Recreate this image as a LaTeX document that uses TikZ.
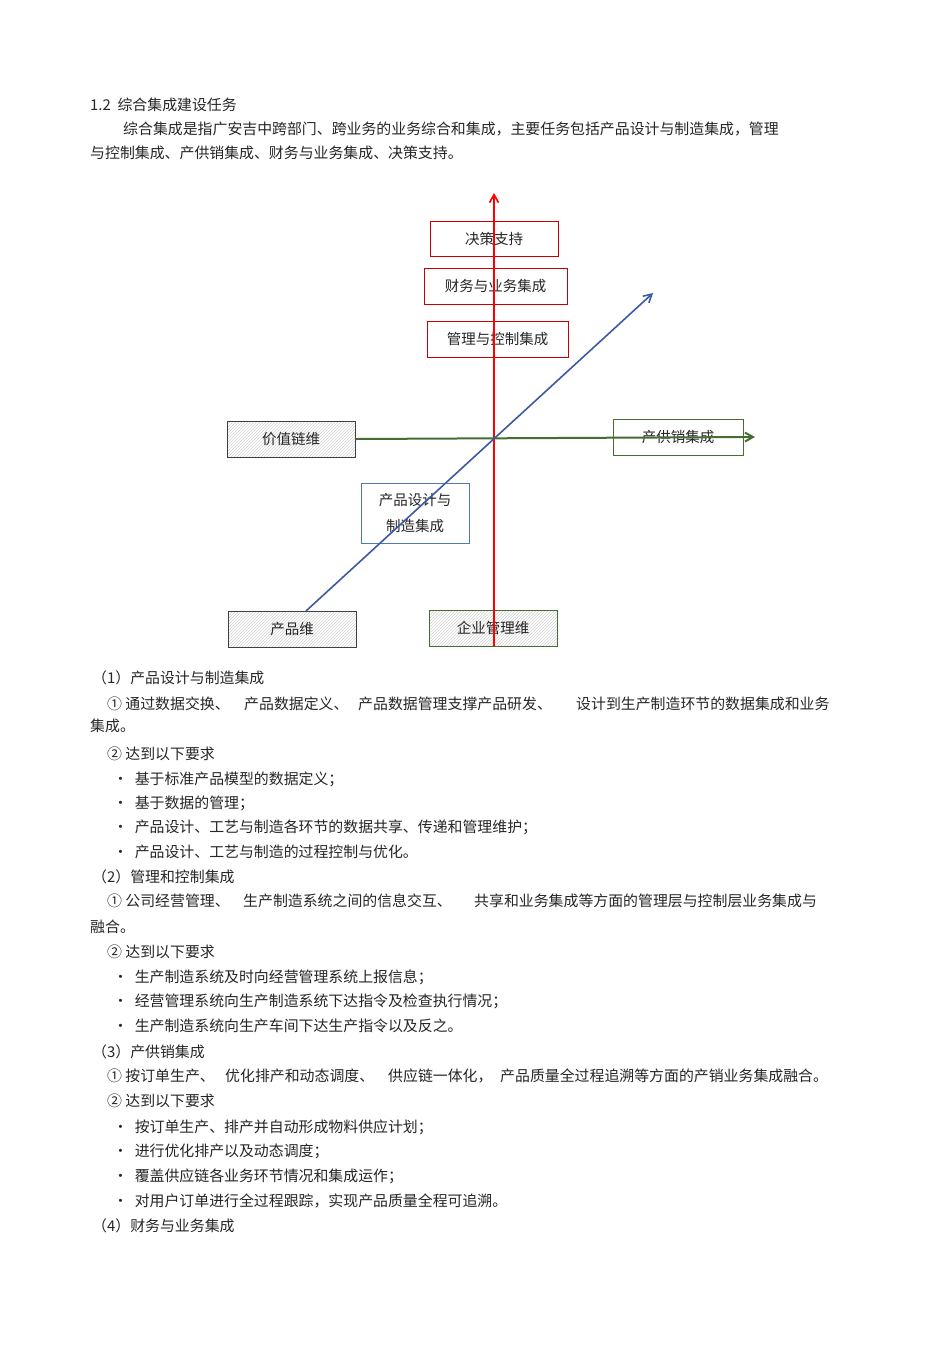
\documentclass[tikz,border=0pt]{standalone}
\usepackage{fontspec}
\setmainfont{Noto Sans CJK SC}
\usetikzlibrary{patterns,arrows.meta}
\definecolor{bluebox}{RGB}{80,120,180}
\definecolor{blueline}{RGB}{60,90,160}
\definecolor{greenline}{RGB}{70,110,50}
\tikzset{
 t/.style={anchor=west,inner sep=0pt,font=\fontsize{14.9}{17}\selectfont,text=black!85},
 bf/.style={font=\fontsize{14.5}{17}\selectfont,text=black!85},
 rbox/.style={bf,draw=red!80!black,line width=0.9pt,inner sep=0pt},
 hbox/.style={bf,draw=black!75,line width=1pt,pattern=north east lines,pattern color=black!18,inner sep=0pt},
}
\begin{document}
\begin{tikzpicture}[x=1pt,y=-1pt]
\useasboundingbox[fill=white] (0,0) rectangle (950,1345);
% boxes
\node[rbox,minimum width=128,minimum height=35] (jc) at (494,238.5) {决策支持};
\node[rbox,minimum width=143,minimum height=36] (cw) at (495.5,286) {财务与业务集成};
\node[rbox,minimum width=141,minimum height=36] (gl) at (497.5,339) {管理与控制集成};
\node[hbox,minimum width=128,minimum height=36] (jz) at (291,439) {价值链维};
\node[bf,draw=greenline,line width=0.9pt,minimum width=130,minimum height=36,inner sep=0pt] (cg) at (678,437) {产供销集成};
\node[bf,draw=bluebox,line width=0.9pt,minimum width=108,minimum height=60,inner sep=0pt,align=center,font=\fontsize{14.5}{26}\selectfont] (cp) at (415,513) {产品设计与\\制造集成};
\node[hbox,minimum width=128,minimum height=36] (cpw) at (292,629) {产品维};
\node[hbox,draw=greenline,minimum width=128,minimum height=36] (qy) at (493,628) {企业管理维};
% axes
\coordinate (rt) at (494,193);
\coordinate (gt) at (755,437);
\coordinate (bt) at (653,293);
\coordinate (bb) at (306,611);
\draw[red,line width=1.6pt,-{Straight Barb[length=8pt,width=9pt]}] (494,646) -- (rt);
\draw[greenline,line width=2pt,-{Straight Barb[length=8pt,width=9pt]}] (jz.east) -- (gt);
\draw[blueline,line width=1.6pt,-{Straight Barb[length=8pt,width=9pt]}] (bb) -- (bt);
% text
\node[t] (l1) at (90,105) {1.2\ \ 综合集成建设任务};
\node[t] (l2) at (123,129) {综合集成是指广安吉中跨部门、跨业务的业务综合和集成，主要任务包括产品设计与制造集成，管理};
\node[t] (l3) at (90,153) {与控制集成、产供销集成、财务与业务集成、决策支持。};
\node[t] (s1) at (92,678) {（1）产品设计与制造集成};
\node[t] (a1) at (107,704) {① 通过数据交换、};
\node[t] (a2) at (244,704) {产品数据定义、};
\node[t] (a3) at (358,704) {产品数据管理支撑产品研发、};
\node[t] (a4) at (576,704) {设计到生产制造环节的数据集成和业务};
\node[t] (a5) at (90,726) {集成。};
\node[t] (a6) at (107,754) {② 达到以下要求};
\node[t] (b1) at (113,779) {·\ \ 基于标准产品模型的数据定义；};
\node[t] (b2) at (113,803) {·\ \ 基于数据的管理；};
\node[t] (b3) at (113,827) {·\ \ 产品设计、工艺与制造各环节的数据共享、传递和管理维护；};
\node[t] (b4) at (113,852) {·\ \ 产品设计、工艺与制造的过程控制与优化。};
\node[t] (s2) at (92,877) {（2）管理和控制集成};
\node[t] (c1) at (107,901) {① 公司经营管理、};
\node[t] (c2) at (243,901) {生产制造系统之间的信息交互、};
\node[t] (c3) at (474,901) {共享和业务集成等方面的管理层与控制层业务集成与};
\node[t] (c4) at (90,927) {融合。};
\node[t] (c5) at (107,952) {② 达到以下要求};
\node[t] (d1) at (113,977) {·\ \ 生产制造系统及时向经营管理系统上报信息；};
\node[t] (d2) at (113,1001) {·\ \ 经营管理系统向生产制造系统下达指令及检查执行情况；};
\node[t] (d3) at (113,1026) {·\ \ 生产制造系统向生产车间下达生产指令以及反之。};
\node[t] (s3) at (92,1052) {（3）产供销集成};
\node[t] (e1) at (107,1076) {① 按订单生产、};
\node[t] (e2) at (225,1076) {优化排产和动态调度、};
\node[t] (e3) at (388,1076) {供应链一体化，};
\node[t] (e4) at (500,1076) {产品质量全过程追溯等方面的产销业务集成融合。};
\node[t] (e5) at (107,1101) {② 达到以下要求};
\node[t] (f1) at (113,1127) {·\ \ 按订单生产、排产并自动形成物料供应计划；};
\node[t] (f2) at (113,1151) {·\ \ 进行优化排产以及动态调度；};
\node[t] (f3) at (113,1176) {·\ \ 覆盖供应链各业务环节情况和集成运作；};
\node[t] (f4) at (113,1201) {·\ \ 对用户订单进行全过程跟踪，实现产品质量全程可追溯。};
\node[t] (s4) at (92,1226) {（4）财务与业务集成};
\end{tikzpicture}
\end{document}
